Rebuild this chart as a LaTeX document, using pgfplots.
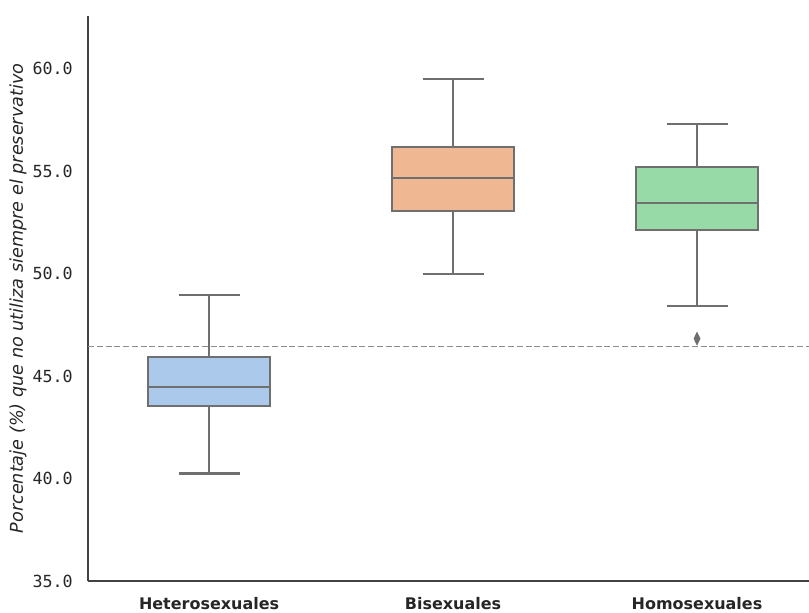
\documentclass[border=0pt]{standalone}
\usepackage{fontspec}
\setmainfont{DejaVu Sans}
\newfontfamily\monofont{DejaVu Sans Mono}
\usepackage{pgfplots}
\pgfplotsset{compat=1.18}
\usepgfplotslibrary{statistics}
\definecolor{cblue}{HTML}{ABC9EA}
\definecolor{corange}{HTML}{EFB792}
\definecolor{cgreen}{HTML}{98DAA7}
\definecolor{cline}{HTML}{6F6F6F}
\definecolor{cspine}{HTML}{424242}
\definecolor{ctext}{HTML}{262626}
\definecolor{cdash}{HTML}{8C8C8C}
\begin{document}
\begin{tikzpicture}
\useasboundingbox (-63.4pt,-23pt) rectangle (519.1pt,418.3pt);
\begin{axis}[
  scale only axis, width=519.1pt, height=406.8pt,
  at={(0,0)}, anchor=south west,
  xmin=-0.496, xmax=2.459, ymin=35.0, ymax=62.56,
  axis x line*=bottom, axis y line*=left,
  axis line style={-, draw=cspine, line width=1.6pt},
  major tick length=0pt,
  xtick={0,1,2}, xticklabels={Heterosexuales,Bisexuales,Homosexuales},
  xticklabel style={font=\bfseries\fontsize{11.5}{13}\selectfont, text=ctext, anchor=base, yshift=-20.2pt},
  ytick={35,40,45,50,55,60}, yticklabels={35.0,40.0,45.0,50.0,55.0,60.0},
  yticklabel style={font=\monofont\fontsize{12}{14}\selectfont, text=ctext, anchor=east, inner sep=0pt, xshift=-10.8pt},
  clip=false,
  boxplot/draw direction=y,
]
\addplot[cdash, line width=1.1pt, dash pattern=on 4.3pt off 2pt] coordinates {(-0.496,46.44) (2.459,46.44)};
\addplot[boxplot prepared={median=44.48, upper quartile=45.94, lower quartile=43.55, upper whisker=48.96, lower whisker=40.24, draw position=0, box extend=0.5, whisker extend=0.25}, fill=cblue, draw=cline, line width=1.5pt] coordinates {};
\addplot[boxplot prepared={median=54.66, upper quartile=56.17, lower quartile=53.06, upper whisker=59.49, lower whisker=49.99, draw position=1, box extend=0.5, whisker extend=0.25}, fill=corange, draw=cline, line width=1.5pt] coordinates {};
\addplot[boxplot prepared={median=53.45, upper quartile=55.21, lower quartile=52.11, upper whisker=57.30, lower whisker=48.41, draw position=2, box extend=0.5, whisker extend=0.25}, fill=cgreen, draw=cline, line width=1.5pt, mark=diamond*, mark size=4.5pt, mark options={fill=cline, draw=cline, line width=0.5pt, xscale=0.65}] coordinates {(2,46.82)};
\end{axis}
\node[rotate=90, font=\itshape\fontsize{12.7}{15}\selectfont, text=ctext] at (-50.4pt,203.4pt) {Porcentaje (\%) que no utiliza siempre el preservativo};
\end{tikzpicture}
\end{document}
